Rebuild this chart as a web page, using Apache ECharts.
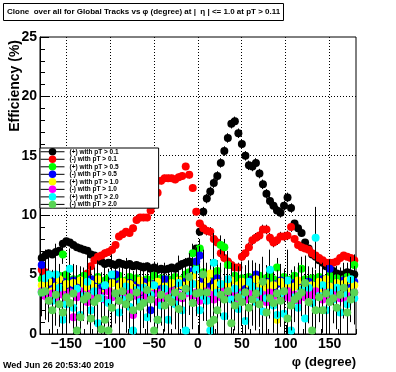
<!DOCTYPE html>
<html>
<head>
<meta charset="utf-8">
<script src="https://cdn.jsdelivr.net/npm/echarts@6/dist/echarts.min.js"></script>
<style>
html,body{margin:0;padding:0;background:#fff;}
#c{width:396px;height:372px;background:#fff;}
</style>
</head>
<body>
<div id="c"></div>
<script>
// ---- histogram binning (phi, degrees) ----
const PHI_MIN = -180, PHI_MAX = 180, NBINS = 90;
const xTickLabels = [-150, -100, -50, 0, 50, 100, 150];
const yTickLabels = [0, 5, 10, 15, 20, 25];

const seriesNames = [
  '(+) with pT > 0.1', '(-) with pT > 0.1',
  '(+) with pT > 0.5', '(-) with pT > 0.5',
  '(+) with pT > 1.0', '(-) with pT > 1.0',
  '(+) with pT > 2.0', '(-) with pT > 2.0'
];

// ---- efficiency values (%) per phi bin ----
const posPt01 = [
  6.4,6.6,6.8,6.7,6.9,7.0,7.6,7.8,7.7,7.5,7.3,7.2,
  7.1,7.0,6.7,6.6,6.4,6.1,5.9,6.0,5.9,5.8,6.0,5.9,
  5.8,5.9,5.7,5.8,5.7,5.6,5.7,5.5,5.6,5.4,5.5,5.4,
  5.5,5.6,5.5,5.7,5.9,6.0,6.1,6.0,7.2,8.6,10.3,11.4,
  12.0,12.7,13.3,14.4,15.4,16.5,17.7,17.9,16.9,16.0,15.0,14.2,
  14.1,14.4,13.5,12.6,11.8,11.2,10.8,10.4,10.2,10.8,11.5,10.6,
  9.3,8.9,8.5,7.7,7.2,6.7,6.5,6.2,6.0,5.7,5.5,5.3,
  5.1,5.0,5.0,5.2,5.1,5.0
];
const negPt01 = [
  5.4,5.2,5.0,4.9,4.7,4.6,4.8,4.5,4.4,4.4,4.5,4.5,
  4.8,5.1,5.7,6.2,6.5,6.6,6.8,6.9,7.1,7.5,8.2,8.4,
  8.6,8.5,8.9,9.6,9.8,9.8,9.8,10.4,10.9,11.9,12.9,13.1,
  13.1,13.1,13.0,13.2,13.3,14.1,13.4,12.3,10.3,9.3,8.9,8.7,
  8.6,8.0,7.7,6.8,6.4,6.1,5.8,5.6,5.6,6.5,6.8,7.3,
  7.9,8.1,8.3,8.8,8.8,8.1,7.7,7.9,8.2,8.2,8.3,9.0,
  8.0,7.5,7.3,7.2,7.1,6.8,6.6,6.4,6.2,6.0,6.0,6.0,
  6.1,6.4,6.6,6.5,6.4,6.2
];
const posPt05 = [
  4.6,4.4,4.8,4.2,4.5,4.9,6.7,5.0,4.4,4.6,4.3,4.7,
  4.9,4.5,4.2,4.6,4.8,4.4,4.5,4.7,4.3,4.6,4.9,4.4,
  4.5,4.8,4.2,4.7,4.5,4.4,4.6,4.3,4.9,4.5,4.7,4.4,
  4.6,4.3,4.8,4.5,4.6,5.0,5.2,6.8,5.6,7.2,5.2,4.7,
  4.5,4.8,5.3,7.5,7.3,5.8,4.6,4.9,4.4,4.7,4.5,4.8,
  4.3,4.6,4.9,4.5,4.7,5.0,4.6,5.6,4.4,4.8,4.5,4.6,
  4.9,4.3,5.5,4.6,4.4,4.7,4.5,4.8,4.3,4.6,4.9,4.4,
  4.7,4.5,4.6,4.8,4.4,5.8
];
const negPt05 = [
  5.8,4.2,3.9,4.6,3.6,4.1,4.4,3.8,4.0,4.5,3.7,4.2,
  3.9,4.3,4.6,4.5,3.8,3.9,4.1,3.7,4.4,5.0,4.2,3.6,
  4.0,4.3,3.8,4.1,3.5,4.4,3.9,2.0,4.2,3.7,4.0,4.6,
  3.8,4.1,3.6,4.3,4.0,4.4,4.8,5.3,6.1,6.6,4.6,4.2,
  3.9,4.4,4.7,4.1,3.8,4.2,4.5,3.6,4.0,4.3,3.9,4.2,
  4.6,5.0,4.1,3.8,4.4,4.0,3.7,4.2,4.5,3.9,4.1,3.6,
  4.3,4.0,4.2,3.8,4.4,3.7,4.1,3.9,4.6,4.3,5.5,4.0,
  3.8,4.2,4.5,3.9,4.1,4.4
];
const posPt10 = [
  4.1,3.8,4.4,3.6,4.0,4.6,3.9,4.2,3.5,4.3,3.7,4.5,
  4.0,3.6,4.2,3.9,4.6,3.4,4.1,3.8,4.3,3.5,4.0,4.4,
  3.7,4.2,3.9,3.3,4.5,4.0,3.6,4.1,3.8,4.4,3.2,4.0,
  3.9,4.3,3.6,4.5,4.1,3.8,4.4,4.9,4.2,3.7,4.0,4.6,
  5.1,3.9,4.3,3.6,4.2,4.0,4.5,3.8,4.1,4.4,3.5,4.2,
  3.9,4.6,4.0,3.7,4.3,3.8,4.1,1.2,4.4,3.9,4.2,3.6,
  4.0,4.5,3.8,4.2,3.5,4.1,3.9,4.4,3.7,4.6,4.0,3.8,
  4.3,3.9,4.2,4.5,3.6,4.1
];
const negPt10 = [
  3.6,3.2,2.8,3.4,3.0,3.7,3.3,2.9,3.5,1.4,3.1,3.6,
  3.3,2.7,3.4,3.0,3.5,3.2,2.9,3.6,3.1,3.4,2.8,3.3,
  3.0,3.5,1.6,3.2,3.6,2.9,3.3,3.1,3.4,2.7,3.5,3.0,
  3.2,3.6,2.9,3.3,3.0,3.4,3.7,3.2,3.5,2.8,3.1,3.6,
  3.3,2.9,3.4,3.1,3.6,3.0,3.3,2.8,3.5,3.2,2.9,3.4,
  3.1,3.6,3.0,3.3,2.7,3.5,3.2,3.4,2.9,3.1,3.6,3.0,
  3.3,2.8,3.5,3.1,3.4,3.0,3.6,3.2,2.9,3.5,3.1,3.3,
  3.6,3.0,3.4,2.8,3.2,3.5
];
const posPt20 = [
  3.5,4.7,5.0,2.8,5.0,3.9,1.2,2.5,5.5,2.2,3.8,1.6,
  3.2,4.4,2.0,3.6,0.9,3.0,4.1,2.6,5.0,3.4,1.8,2.9,
  4.0,2.3,0.3,3.7,2.7,3.9,1.4,3.3,4.1,1.2,2.4,3.8,
  1.2,3.1,2.5,4.3,2.0,0.3,3.6,4.2,5.4,2.0,3.2,2.8,
  0.3,6.0,3.5,4.2,1.5,4.6,2.9,3.8,2.1,3.3,1.1,4.4,
  4.0,2.7,3.6,1.9,3.0,5.4,2.4,1.6,3.4,1.7,4.5,0.3,
  3.1,2.2,3.7,1.3,3.9,2.6,8.1,3.2,4.1,2.0,3.5,2.9,
  3.9,1.8,3.4,2.5,4.6,3.0
];
const negPt20 = [
  3.5,3.6,2.8,2.0,3.3,2.5,1.8,3.1,2.6,3.4,0.3,1.4,
  2.9,3.2,1.3,2.7,3.0,0.4,1.2,0.3,2.2,3.4,2.8,3.6,
  2.5,3.1,2.0,3.5,2.3,2.6,3.7,2.9,0.3,1.2,3.3,2.4,
  3.0,2.7,3.5,2.1,3.2,3.8,4.8,2.6,3.4,3.5,5.0,3.5,
  0.9,1.2,2.0,3.3,2.9,3.6,0.9,2.4,3.1,2.7,3.5,2.2,
  2.9,3.4,2.5,4.4,1.8,3.0,2.6,3.4,2.8,3.6,1.3,2.4,
  2.9,3.2,3.5,4.3,2.7,0.3,2.0,3.1,2.0,3.4,2.7,3.0,
  2.2,3.3,3.9,1.8,2.9,3.5
];

// ---- statistical errors (%) per phi bin ----
const errPt01 = [
  0.3,0.3,0.3,0.3,0.3,0.3,0.3,0.3,0.3,0.3,0.3,0.3,
  0.3,0.3,0.3,0.3,0.3,0.3,0.3,0.3,0.3,0.3,0.3,0.3,
  0.3,0.3,0.3,0.3,0.3,0.3,0.3,0.3,0.3,0.3,0.3,0.3,
  0.3,0.3,0.3,0.3,0.3,0.3,0.3,0.3,0.3,0.3,0.4,0.4,
  0.4,0.4,0.4,0.4,0.4,0.4,0.4,0.4,0.4,0.4,0.4,0.4,
  0.4,0.4,0.4,0.4,0.4,0.4,0.4,0.4,0.4,0.4,0.4,0.4,
  0.3,0.3,0.3,0.3,0.3,0.3,0.3,0.3,0.3,0.3,0.3,0.3,
  0.3,0.3,0.3,0.3,0.3,0.3
];
const errPt05 = [
  0.8,0.9,0.7,0.8,1.0,0.9,0.8,0.7,0.9,1.0,0.8,0.9,
  0.7,0.8,0.9,1.0,0.8,0.7,0.9,0.8,1.0,0.9,0.7,0.8,
  0.9,0.8,1.0,0.7,0.9,0.8,0.8,1.0,0.9,0.7,0.8,0.9,
  1.0,0.8,0.9,0.7,0.8,0.9,1.0,0.8,0.9,0.8,0.7,0.9,
  0.8,1.0,0.9,0.8,0.7,0.9,0.8,1.0,0.8,0.9,0.7,0.8,
  0.9,0.8,1.0,0.9,0.7,0.8,0.9,0.8,1.0,0.7,0.9,0.8,
  0.8,0.9,1.0,0.7,0.8,0.9,0.8,1.0,0.9,0.7,0.8,0.9,
  1.0,0.8,0.9,0.7,0.8,0.9
];
const errPt10 = [
  1.3,1.5,1.2,1.4,1.6,1.3,1.2,1.5,1.4,1.3,1.6,1.2,
  1.4,1.3,1.5,1.2,1.6,1.4,1.3,1.5,1.2,1.4,1.6,1.3,
  1.5,1.2,1.4,1.6,1.3,1.5,1.2,1.4,1.3,1.6,1.2,1.5,
  1.4,1.3,1.6,1.2,1.5,1.4,1.3,1.2,1.5,1.6,1.3,1.4,
  1.2,1.5,1.3,1.6,1.4,1.2,1.5,1.3,1.4,1.6,1.2,1.5,
  1.3,1.4,1.2,1.6,1.5,1.3,1.4,1.2,1.5,1.3,1.6,1.4,
  1.2,1.5,1.3,1.4,1.6,1.2,1.5,1.3,1.4,1.2,1.6,1.5,
  1.3,1.4,1.2,1.5,1.3,1.6
];
const errPt20 = [
  2.0,2.4,1.8,2.2,2.6,1.9,2.3,2.1,1.7,2.5,2.0,2.2,
  1.8,2.4,2.1,1.9,2.6,2.2,2.0,2.3,1.7,2.5,2.1,1.9,
  2.4,2.0,2.2,1.8,2.6,2.1,2.3,1.9,2.0,2.5,1.7,2.2,
  2.4,1.9,2.1,2.3,1.8,2.6,2.0,2.2,1.9,2.4,2.1,1.7,
  2.3,2.5,2.0,1.8,2.2,2.4,1.9,2.1,2.6,2.0,2.3,1.8,
  2.2,2.4,1.9,2.1,2.5,1.7,2.3,2.0,2.2,1.8,2.6,2.1,
  1.9,2.4,2.0,2.3,1.8,2.5,2.6,2.1,1.9,2.2,2.4,2.0,
  1.8,2.3,2.1,2.5,1.9,2.2
];

const seriesValues = [posPt01, negPt01, posPt05, negPt05, posPt10, negPt10, posPt20, negPt20];
const seriesErrors = [errPt01, errPt01, errPt05, errPt05, errPt10, errPt10, errPt20, errPt20];
const seriesColors = ['#000000', '#ff0000', '#00ff00', '#0000ff', '#ffff00', '#ff00ff', '#00ffff', '#59d454'];

const Y_MIN = 0, Y_MAX = 25;
const binWidth = (PHI_MAX - PHI_MIN) / NBINS;
const binCenters = seriesValues[0].map((_, i) => PHI_MIN + binWidth * (i + 0.5));

const FONT = "'Liberation Sans', Arial, Helvetica, sans-serif";

const chart = echarts.init(document.getElementById('c'));

const px = v => Math.round(v - 0.5) + 0.5;

function errRender(params, api) {
  const x = api.value(0), y = api.value(1), e = api.value(2);
  const lo = api.coord([x, Math.max(Y_MIN, y - e)]);
  const hi = api.coord([x, Math.min(Y_MAX, y + e)]);
  return {
    type: 'line',
    shape: {x1: px(lo[0]), y1: lo[1], x2: px(hi[0]), y2: hi[1]},
    style: {stroke: '#000', lineWidth: 1}
  };
}

// dotted grid lines at the labelled ticks, built from 1px dots between two axis points.
// item = [x, y, orientation]; orientation 0 = vertical line at x, 1 = horizontal line at y
function dottedBetween(a, b) {
  const dots = [];
  const x0 = Math.round(a[0] - 0.5), y0 = Math.round(a[1] - 0.5);
  const x1 = Math.round(b[0] - 0.5), y1 = Math.round(b[1] - 0.5);
  const n = Math.max(Math.abs(x1 - x0), Math.abs(y1 - y0));
  for (let s = 0; s <= n; s += 3) {
    const t = n ? s / n : 0;
    dots.push({type: 'rect',
               shape: {x: Math.round(x0 + (x1 - x0) * t), y: Math.round(y0 + (y1 - y0) * t), width: 1, height: 1},
               style: {fill: '#000'}});
  }
  return {type: 'group', children: dots};
}
function gridRender(params, api) {
  const x = api.value(0), y = api.value(1), horiz = api.value(2);
  if (horiz) return dottedBetween(api.coord([PHI_MIN, y]), api.coord([PHI_MAX, y]));
  return dottedBetween(api.coord([x, Y_MAX]), api.coord([x, Y_MIN]));
}
const gridItems = xTickLabels.map(v => [v, 1, 0])
  .concat(yTickLabels.filter(v => v > Y_MIN && v < Y_MAX).map(v => [-179, v, 1]));

const series = [{
  name: 'gridlines',
  type: 'custom',
  xAxisIndex: 0, yAxisIndex: 0,
  z: 10,
  silent: true,
  renderItem: gridRender,
  encode: {x: 0, y: 1},
  data: gridItems
}];
seriesValues.forEach((vals, k) => {
  series.push({
    name: 'err' + k,
    type: 'custom',
    xAxisIndex: 0, yAxisIndex: 0,
    z: 10 + 2 * k,
    silent: true,
    renderItem: errRender,
    encode: {x: 0, y: 1},
    data: vals.map((v, i) => [binCenters[i], v, seriesErrors[k][i]])
  });
  series.push({
    name: seriesNames[k],
    type: 'line',
    xAxisIndex: 0, yAxisIndex: 0,
    z: 11 + 2 * k,
    symbol: 'circle',
    symbolSize: 8,
    showSymbol: true,
    showAllSymbol: true,
    lineStyle: {width: 0, opacity: 0},
    itemStyle: {color: seriesColors[k], borderWidth: 0},
    emphasis: {disabled: true},
    data: vals.map((v, i) => [binCenters[i], v])
  });
});

const option = {
  animation: false,
  title: {
    text: 'Clone  over all for Global Tracks vs φ (degree) at |  η | <= 1.0 at pT > 0.11',
    left: 3, top: 3,
    padding: [5, 4, 5, 4],
    borderColor: '#000', borderWidth: 1,
    z: 50,
    textStyle: {fontFamily: FONT, fontSize: 8, fontWeight: 'bold', color: '#000'}
  },
  legend: {
    orient: 'vertical',
    left: 40, top: 148,
    padding: [0, 40, 0, 0],
    itemWidth: 24, itemHeight: 9.4, itemGap: 0,
    backgroundColor: '#ffffff',
    borderColor: '#000', borderWidth: 1,
    z: 50,
    selectedMode: false,
    data: seriesNames,
    lineStyle: {color: '#000', width: 1, opacity: 1, type: 'solid'},
    itemStyle: {borderWidth: 0},
    textStyle: {fontFamily: FONT, fontSize: 6.5, fontWeight: 'bold', color: '#000'}
  },
  grid: {
    left: 40, right: 40, top: 37, bottom: 38,
    show: true, borderColor: '#000', borderWidth: 1
  },
  xAxis: [
    {
      type: 'value', min: PHI_MIN, max: PHI_MAX, interval: 10,
      position: 'bottom',
      axisLine: {show: true, onZero: false, lineStyle: {color: '#000', width: 1}},
      axisTick: {show: true, inside: true, length: 5, lineStyle: {color: '#000'}},
      axisLabel: {show: false},
      splitLine: {show: false}
    },
    {
      type: 'value', min: PHI_MIN, max: PHI_MAX,
      position: 'bottom',
      axisLine: {show: false, onZero: false},
      axisTick: {show: true, inside: true, length: 9, customValues: xTickLabels, lineStyle: {color: '#000'}},
      axisLabel: {
        show: true, customValues: xTickLabels, margin: 3,
        fontFamily: FONT, fontSize: 14, fontWeight: 'bold', color: '#000',
        formatter: v => String(v).replace('-', '\u2212')
      },
      splitLine: {show: false}
    }
  ],
  yAxis: {
    type: 'value', min: Y_MIN, max: Y_MAX, interval: 5,
    axisLine: {show: true, onZero: false, lineStyle: {color: '#000', width: 1}},
    axisTick: {show: true, inside: true, length: 9, lineStyle: {color: '#000'}},
    minorTick: {show: true, splitNumber: 5, length: 5, lineStyle: {color: '#000'}},
    axisLabel: {
      show: true, margin: 3,
      fontFamily: FONT, fontSize: 14, fontWeight: 'bold', color: '#000',
      formatter: v => yTickLabels.indexOf(v) >= 0 ? String(v) : ''
    },
    splitLine: {show: false}
  },
  graphic: [
    {
      type: 'text', z: 50,
      x: 15, y: 40, rotation: Math.PI / 2,
      style: {text: 'Efficiency (%)', fill: '#000', font: 'bold 14px ' + FONT, align: 'right', verticalAlign: 'middle'}
    },
    {
      type: 'text', z: 50,
      x: 356, y: 362,
      style: {text: 'φ (degree)', fill: '#000', font: 'bold 13px ' + FONT, align: 'right', verticalAlign: 'middle'}
    },
    {
      type: 'text', z: 50,
      x: 3, y: 366,
      style: {text: 'Wed Jun 26 20:53:40 2019', fill: '#000', font: 'bold 9px ' + FONT, align: 'left', verticalAlign: 'middle'}
    }
  ],
  series: series
};
chart.setOption(option);
</script>
</body>
</html>
